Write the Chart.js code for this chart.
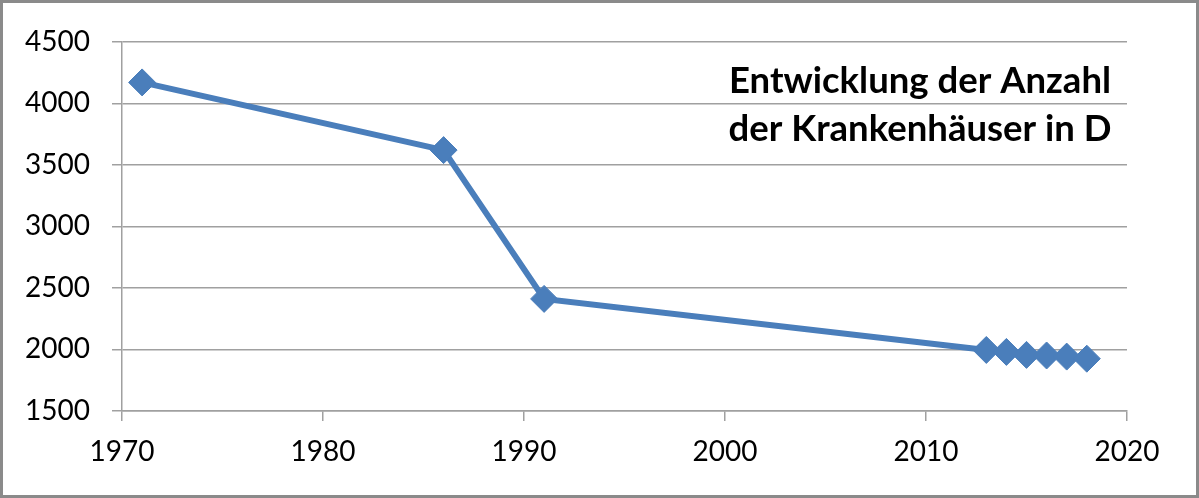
<!DOCTYPE html>
<html lang="de">
<head>
  <meta charset="UTF-8">
  <title>Entwicklung der Anzahl der Krankenhäuser in D</title>
  <script src="https://cdn.jsdelivr.net/npm/chart.js@4.4.1/dist/chart.umd.min.js"></script>
  <style>
    html, body { margin: 0; padding: 0; background: #fff; }
    #wrap {
      width: 1199px; height: 498px; box-sizing: border-box;
      border: 3px solid #8a8a8a; background: #fff;
    }
  </style>
</head>
<body>
  <div id="wrap"><canvas id="myChart" width="1193" height="492"></canvas></div>
  <script>
    const years = [1971, 1986, 1991, 2013, 2014, 2015, 2016, 2017, 2018];
    const hospitals = [4170, 3620, 2411, 1996, 1980, 1956, 1951, 1942, 1925];
    const titleLines = ['Entwicklung der Anzahl', 'der Krankenhäuser in D'];

    const gray = '#a0a0a0';
    const tickFont = { family: 'Lato', size: 28 };

    // title sits inside the plot, upper right
    const innerTitle = {
      id: 'innerTitle',
      afterDraw(chart) {
        const { ctx, chartArea } = chart;
        ctx.save();
        ctx.font = 'bold 36.5px Lato';
        ctx.fillStyle = '#000';
        ctx.textAlign = 'center';
        ctx.textBaseline = 'alphabetic';
        const cx = chartArea.right - 207;
        ctx.fillText(titleLines[0], cx, chartArea.top + 51);
        ctx.fillText(titleLines[1], cx, chartArea.top + 99);
        ctx.restore();
      }
    };

    const data = {
      datasets: [{
        data: years.map((y, i) => ({ x: y, y: hospitals[i] })),
        showLine: true,
        borderColor: '#4a7ebb',
        backgroundColor: '#4a7ebb',
        borderWidth: 6,
        pointStyle: 'rectRot',
        pointRadius: 13.5,
        pointBorderWidth: 1,
        pointBackgroundColor: '#4a7ebb',
        pointBorderColor: '#4a7ebb',
        tension: 0
      }]
    };

    new Chart(document.getElementById('myChart'), {
      type: 'scatter',
      data,
      options: {
        responsive: false,
        animation: false,
        layout: { padding: { left: 0, top: 36, right: 69, bottom: 0 } },
        plugins: {
          legend: { display: false },
          tooltip: { enabled: false }
        },
        scales: {
          x: {
            type: 'linear',
            min: 1970, max: 2020,
            afterFit(scale) { scale.height = 84; },
            ticks: { stepSize: 10, color: '#000', font: tickFont, padding: 14, maxRotation: 0,
              callback: v => String(v) },
            grid: { drawOnChartArea: false, drawTicks: true, tickLength: 10, color: gray, lineWidth: 1.5 },
            border: { color: gray, width: 1.5 }
          },
          y: {
            min: 1500, max: 4500,
            afterFit(scale) { scale.width = 119; },
            ticks: { stepSize: 500, color: '#000', font: tickFont, padding: 22,
              callback: v => String(v) },
            grid: { color: gray, lineWidth: 1.5, tickLength: 10 },
            border: { color: gray, width: 1.5 }
          }
        }
      },
      plugins: [innerTitle]
    });
  </script>
</body>
</html>
